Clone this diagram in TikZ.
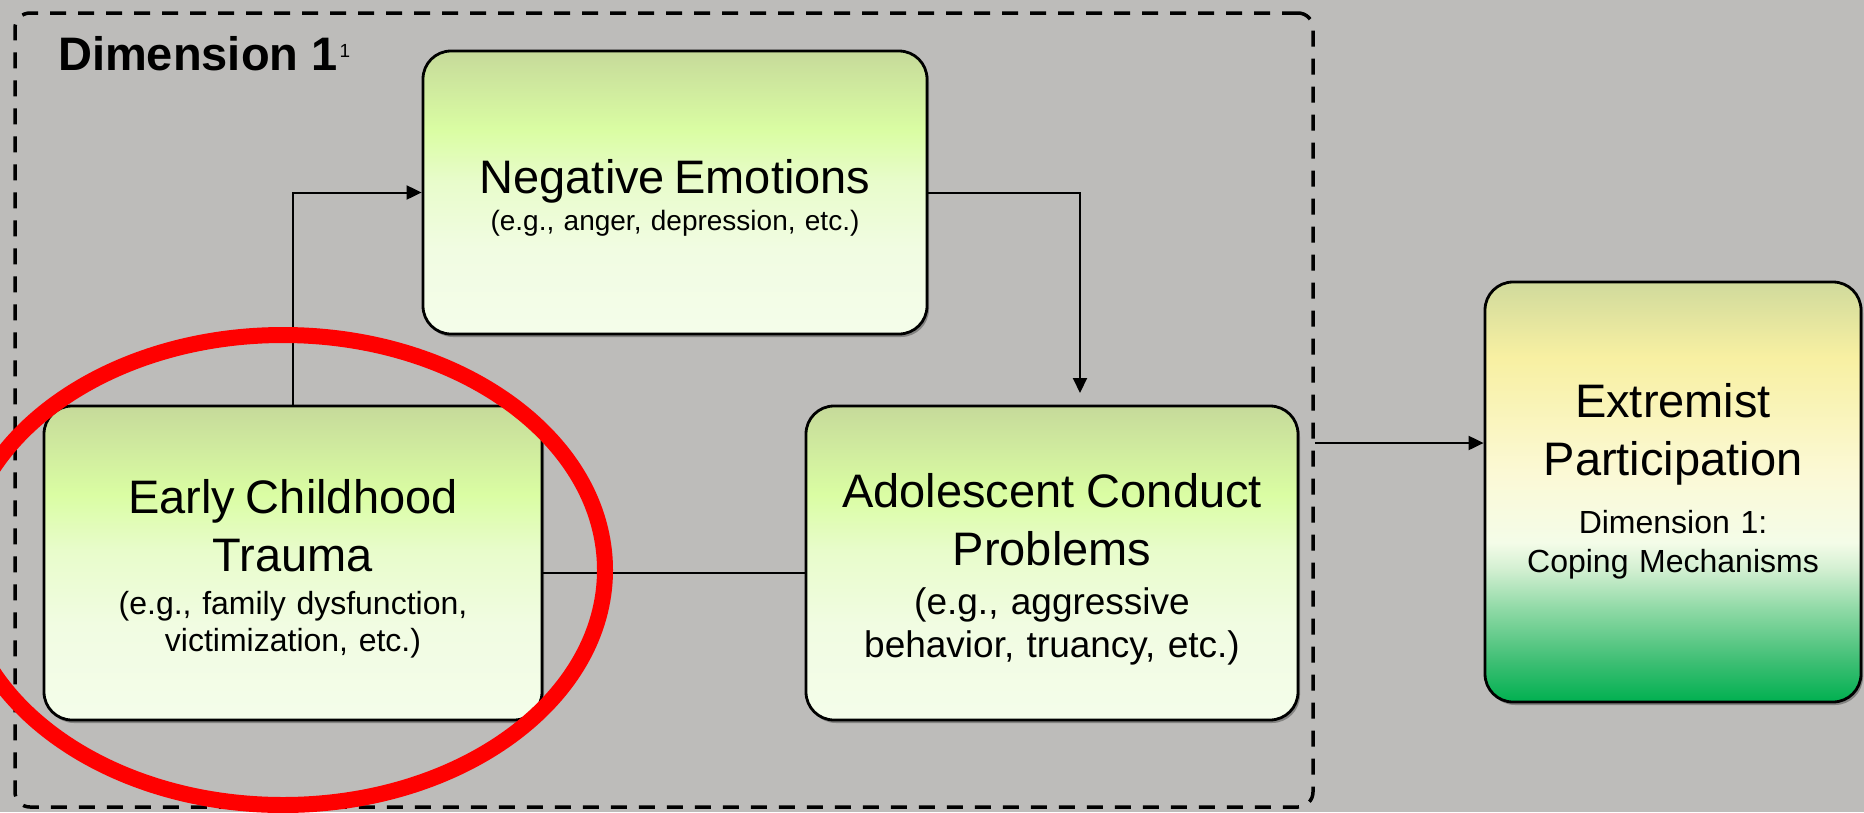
\documentclass[tikz,border=0pt]{standalone}
\usepackage{fontspec}
\setmainfont{Liberation Sans}
\usetikzlibrary{arrows.meta,shadows}
\definecolor{canvas}{HTML}{BDBCBA}
\definecolor{edge}{HTML}{000000}
\definecolor{ringred}{HTML}{FF0000}
\definecolor{limeA}{HTML}{F4FDEA}
\definecolor{limeB}{HTML}{F1FCE2}
\definecolor{limeC}{HTML}{E8FCCB}
\definecolor{limeD}{HTML}{DAFDA3}
\definecolor{limeE}{HTML}{C6DA9A}
\definecolor{outA}{HTML}{00B050}
\definecolor{outB}{HTML}{40BF75}
\definecolor{outC}{HTML}{8ED9A5}
\definecolor{outD}{HTML}{D5F0D3}
\definecolor{outE}{HTML}{F4FCE8}
\definecolor{outF}{HTML}{FBF9D6}
\definecolor{outG}{HTML}{F8F0A2}
\definecolor{outH}{HTML}{D0DA9C}
\pgfdeclareverticalshading{limefill}{100bp}{color(0bp)=(limeA); color(25bp)=(limeA); color(40bp)=(limeB); color(52bp)=(limeC); color(61bp)=(limeD); color(75bp)=(limeE); color(100bp)=(limeE)}
\pgfdeclareverticalshading{outfill}{100bp}{color(0bp)=(outA); color(25bp)=(outA); color(30bp)=(outB); color(36bp)=(outC); color(41bp)=(outD); color(44bp)=(outE); color(52bp)=(outF); color(66bp)=(outG); color(75bp)=(outH); color(100bp)=(outH)}
\newcommand{\ttl}{\fontsize{47}{58}\selectfont}
\tikzset{
  box/.style={draw=edge, line width=2.8pt, rounded corners=28pt, shade, shading=limefill,
    inner sep=0pt, align=center, text height=40pt,
    drop shadow={shadow xshift=2pt, shadow yshift=-3pt, opacity=0.3, fill=black}},
  outbox/.style={box, shading=outfill},
  dimframe/.style={draw=edge, line width=3.5pt, dash pattern=on 16pt off 12pt, rounded corners=15pt, inner sep=0pt},
  arr/.style={draw=edge, line width=2pt, -{Triangle[length=15pt,width=14pt]}},
  link/.style={draw=edge, line width=2pt},
  redring/.style={draw=ringred, line width=16pt},
}

\begin{document}
\begin{tikzpicture}[x=1pt, y=-1pt]
  \useasboundingbox (0,0) rectangle (1864,812);
  \fill[canvas] (0,0) rectangle (1864,812);

  % dashed frame of dimension 1
  \node[dimframe, minimum width=1298pt, minimum height=794pt] (dim) at (664,410) {};
  \node[anchor=base west, inner sep=0pt, font=\bfseries\fontsize{47}{56}\selectfont] (dimlab) at (58,70)
    {Dimension 1\kern2pt\raisebox{13pt}{\mdseries\fontsize{19}{22}\selectfont 1}};

  \node[box, minimum width=504pt, minimum height=283pt, text width=480pt, text depth=39pt,
    font=\fontsize{28}{37}\selectfont] (neg) at (675,192.5)
    {{\ttl Negative Emotions\par}(e.g., anger, depression, etc.)};
  \node[box, minimum width=498pt, minimum height=314pt, text width=478pt, text depth=140pt,
    font=\fontsize{32}{37}\selectfont] (early) at (293,563)
    {{\ttl Early Childhood\\ Trauma\par}\vspace{6pt}(e.g., family dysfunction,\\ victimization, etc.)};
  \node[box, minimum width=492pt, minimum height=314pt, text width=472pt, text depth=152pt,
    font=\fontsize{37}{43}\selectfont] (adol) at (1052,563)
    {{\ttl Adolescent Conduct\\ Problems\par}\vspace{6pt}(e.g., aggressive\\ behavior, truancy, etc.)};
  \node[outbox, minimum width=376pt, minimum height=420pt, text width=356pt, text depth=190pt,
    font=\fontsize{32}{39}\selectfont] (ext) at (1673,492)
    {{\ttl Extremist\\ Participation\par}\vspace{19pt}Dimension 1:\\ Coping Mechanisms};

  % connectors
  \coordinate (negdrop) at (1080,393);
  \coordinate (outlvl) at (0,443);
  \draw[arr] (early.north) |- (neg.west);
  \draw[arr] (neg.east) -| (negdrop);
  \draw[link] ([yshift=-10pt]early.east) -- ([yshift=-10pt]adol.west);
  \draw[arr] (dim.east |- outlvl) -- (ext.west |- outlvl);

  % highlight
  \draw[redring] (283,570) ellipse [x radius=322, y radius=235];
\end{tikzpicture}
\end{document}
